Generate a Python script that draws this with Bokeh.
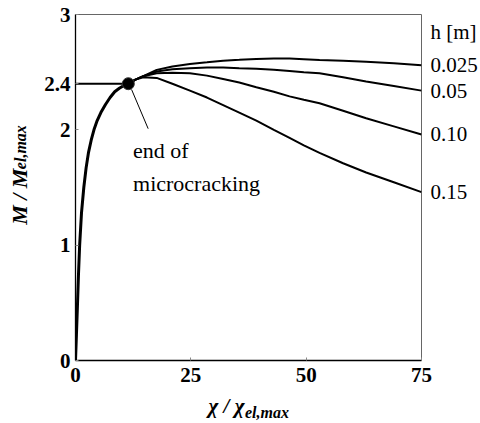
import math
from bokeh.plotting import figure
from bokeh.models import FixedTicker, Label, LinearAxis
from bokeh.embed import file_html
from bokeh.resources import INLINE

# ---- data ----
rise_x = [0, 0.2, 0.4, 0.65, 0.9, 1.3, 1.8, 2.3, 2.8, 3.4, 4.0, 4.7, 5.5,
          6.5, 7.5, 8.5, 9.5, 10.5, 11.45]
rise_y = [0, 0.22, 0.45, 0.75, 1.0, 1.28, 1.5, 1.67, 1.8, 1.91, 2.0, 2.08,
          2.15, 2.22, 2.28, 2.33, 2.36, 2.385, 2.40]

post_x = [11.45, 13.0, 14.7, 17.6, 21.0, 24.8, 28.5, 32.0, 35.5, 39.2, 43.0,
          46.4, 49.5, 52.9, 58.0, 63.0, 69.0, 75.0]
h_labels = ["0.025", "0.05", "0.10", "0.15"]
y_h0025 = [2.40, 2.435, 2.465, 2.52, 2.55, 2.57, 2.585, 2.60, 2.607, 2.615,
           2.618, 2.618, 2.612, 2.605, 2.60, 2.59, 2.578, 2.56]
y_h005 = [2.40, 2.435, 2.465, 2.505, 2.525, 2.535, 2.54, 2.54, 2.535, 2.53,
          2.52, 2.51, 2.50, 2.49, 2.455, 2.42, 2.38, 2.34]
y_h010 = [2.40, 2.435, 2.465, 2.49, 2.495, 2.49, 2.47, 2.44, 2.41, 2.37,
          2.33, 2.29, 2.26, 2.23, 2.165, 2.10, 2.03, 1.96]
y_h015 = [2.40, 2.435, 2.455, 2.45, 2.40, 2.34, 2.28, 2.215, 2.15, 2.08,
          2.00, 1.93, 1.865, 1.80, 1.71, 1.63, 1.545, 1.46]
post_series = [y_h0025, y_h005, y_h010, y_h015]

crack_x = 11.45
crack_y = 2.4

x_ticks = [0, 25, 50, 75]
y_ticks = [0, 1, 2, 2.4, 3]

FONT = "Liberation Serif"

p = figure(width=480, height=423, x_range=(0, 75), y_range=(0, 3),
           output_backend="svg", toolbar_location=None)
p.min_border_left = 75
p.min_border_right = 58
p.min_border_top = 14
p.min_border_bottom = 63

p.grid.visible = False
p.outline_line_color = "#666666"
p.outline_line_width = 1

for ax, ticks in ((p.xaxis[0], x_ticks), (p.yaxis[0], y_ticks)):
    ax.ticker = FixedTicker(ticks=ticks)
    ax.minor_tick_line_color = None
    ax.major_tick_in = 3
    ax.major_tick_out = 0
    ax.major_tick_line_color = "#888888"
    ax.axis_line_color = "black"
    ax.axis_line_width = 1.3
    ax.major_label_text_font = FONT
    ax.major_label_text_font_style = "bold"
    ax.major_label_text_font_size = "21px"
    ax.major_label_text_color = "black"
p.xaxis.major_label_standoff = 7
p.yaxis.major_label_standoff = 5
p.yaxis.major_label_overrides = {2.4: "2.4"}


def text_axis(kind, tick, label, size, style, standoff, orientation="horizontal"):
    ax = LinearAxis(ticker=FixedTicker(ticks=[tick]),
                    major_label_overrides={tick: label})
    ax.axis_line_color = None
    ax.major_tick_line_color = None
    ax.minor_tick_line_color = None
    ax.major_tick_in = 0
    ax.major_tick_out = 0
    ax.major_label_text_font = FONT
    ax.major_label_text_font_style = style
    ax.major_label_text_font_size = size
    ax.major_label_text_color = "black"
    ax.major_label_standoff = standoff
    ax.major_label_orientation = orientation
    p.add_layout(ax, kind)
    return ax


# x axis title  χ / χ_el,max
text_axis("below", 32.74, "χ / χ", "21px", "bold italic", 9)
text_axis("below", 41.5, "el,max", "16px", "bold italic", -17)

# y axis title  M / M_el,max (vertical)
text_axis("left", 1.42, "M / M", "22px", "bold italic", 9, "vertical")
text_axis("left", 1.85, "el,max", "16px", "bold italic", -25, "vertical")

# right-hand labels (h values) on a right axis
r_ticks = [2.85] + [ys[-1] for ys in post_series]
r_labels = ["h [m]"] + h_labels
rax = LinearAxis(ticker=FixedTicker(ticks=r_ticks),
                 major_label_overrides=dict(zip(r_ticks, r_labels)))
rax.axis_line_color = None
rax.major_tick_line_color = None
rax.minor_tick_line_color = None
rax.major_tick_in = 0
rax.major_tick_out = 0
rax.major_label_text_font = FONT
rax.major_label_text_font_size = "21px"
rax.major_label_text_color = "black"
rax.major_label_standoff = 9
p.add_layout(rax, "right")

# horizontal line to the end of microcracking
p.line([0, crack_x], [crack_y, crack_y], line_color="black", line_width=2)

# post-cracking curves
for ys in post_series:
    p.line(post_x, ys, line_color="black", line_width=2)

# common rising branch
p.line(rise_x, rise_y, line_color="black", line_width=3)

# leader line and dot
p.line([crack_x + 0.7, crack_x + 4.3], [crack_y - 0.05, crack_y - 0.39],
       line_color="black", line_width=1)
p.scatter([crack_x], [crack_y], size=12, fill_color="black", line_color="#333333")

p.add_layout(Label(x=12.47, y=1.82, text="end of", text_font=FONT,
                   text_font_size="22px", text_baseline="alphabetic",
                   text_color="black"))
p.add_layout(Label(x=12.47, y=1.535, text="microcracking", text_font=FONT,
                   text_font_size="22px", text_baseline="alphabetic",
                   text_color="black"))

open("out.html", "w").write(file_html(p, INLINE))
